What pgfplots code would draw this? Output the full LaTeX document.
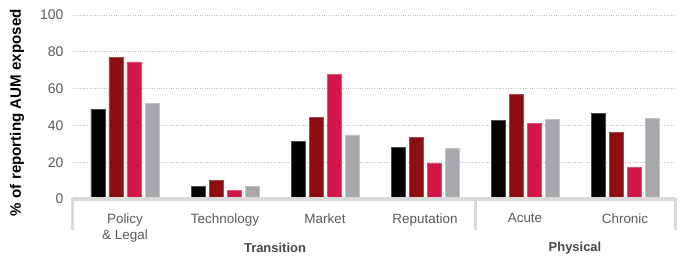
\documentclass[border=0pt]{standalone}
\usepackage{fontspec}
\setmainfont{Liberation Sans}
\usepackage{pgfplots}
\pgfplotsset{compat=1.18}
\definecolor{cblack}{HTML}{000000}
\definecolor{cdred}{HTML}{8B0E12}
\definecolor{cpink}{HTML}{D31547}
\definecolor{cgray}{HTML}{A7A8AB}
\definecolor{axgray}{HTML}{D9D9D9}
\definecolor{txtgray}{HTML}{5A5A5A}
\begin{document}
\begin{tikzpicture}
\begin{axis}[
  at={(0,0)}, anchor=south west,
  scale only axis,
  width=602bp, height=184bp,
  xmin=-0.52, xmax=5.5,
  ymin=0, ymax=100,
  ybar, bar width=14bp,
  axis line style={draw=none},
  ytick={0,20,...,100},
  ymajorgrids,
  grid style={dotted, draw=black!25, line width=0.6pt},
  major tick length=0pt,
  xtick={0,1,2,3,4,5},
  xticklabels={{Policy\\\& Legal},Technology,Market,Reputation,Acute,Chronic},
  xticklabel style={align=center, font=\fontsize{13.5}{16}\selectfont, text=txtgray, yshift=-11bp},
  yticklabel style={font=\fontsize{14}{16}\selectfont, text=txtgray, xshift=-6bp},
  /pgf/number format/assume math mode=true,
  ylabel={\textbf{\% of reporting AUM exposed}},
  ylabel style={font=\fontsize{15.2}{17}\selectfont, at={(axis description cs:-0.093,0.47)}, anchor=center},
  clip=false,
]
\addplot[fill=cblack, draw=black!70, line width=0.6pt, bar shift=-27bp] coordinates {(0,48.7) (1,6.7) (2,31.5) (3,27.9) (4,42.9) (5,46.6)};
\addplot[fill=cdred, draw=cdred!75!white, line width=0.6pt, bar shift=-9bp] coordinates {(0,76.8) (1,10.3) (2,44.4) (3,33.5) (4,56.9) (5,36.2)};
\addplot[fill=cpink, draw=cpink!75!white, line width=0.6pt, bar shift=9bp] coordinates {(0,74.5) (1,4.7) (2,67.9) (3,19.4) (4,40.9) (5,17.0)};
\addplot[fill=cgray, draw=cgray!70!white, line width=0.6pt, bar shift=27bp] coordinates {(0,51.8) (1,6.7) (2,34.8) (3,27.3) (4,43.3) (5,43.9)};
\draw[axgray, line width=3bp] (axis cs:-0.52,0) -- (axis cs:5.5,0);
\draw[axgray, line width=3bp] ([yshift=1.5bp]axis cs:-0.52,0) -- ([yshift=-31bp]axis cs:-0.52,0);
\draw[axgray, line width=3bp] ([yshift=1.5bp]axis cs:3.5,0) -- ([yshift=-31bp]axis cs:3.5,0);
\draw[axgray, line width=3bp] ([yshift=1.5bp]axis cs:5.5,0) -- ([yshift=-31bp]axis cs:5.5,0);
\node[font=\bfseries\fontsize{13}{15}\selectfont, text=txtgray!80!black] at ([yshift=-49bp]axis cs:1.5,0) {Transition};
\node[font=\bfseries\fontsize{13}{15}\selectfont, text=txtgray!80!black] at ([yshift=-49bp]axis cs:4.5,0) {Physical};
\end{axis}
\pgfresetboundingbox
\path (-73bp,-57bp) rectangle (611bp,199bp);
\end{tikzpicture}
\end{document}
